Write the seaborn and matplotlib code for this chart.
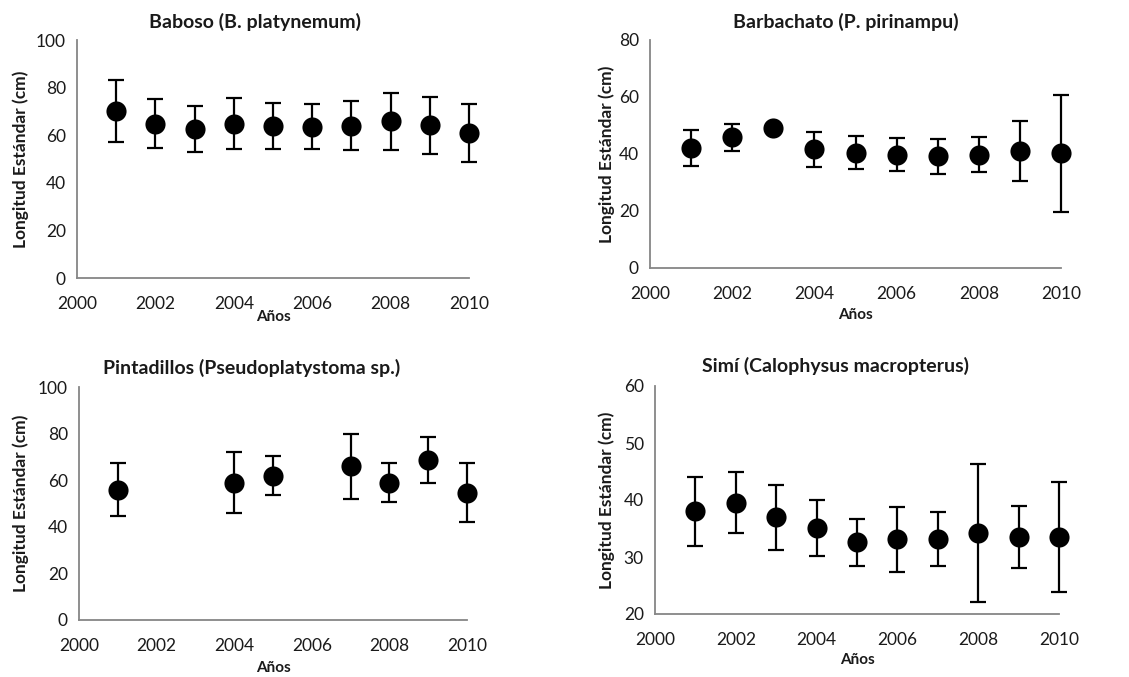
import matplotlib
matplotlib.use("Agg")
import matplotlib.pyplot as plt
import seaborn as sns
import pandas as pd
import numpy as np

# ---- data ----
titles = ["Baboso (B. platynemum)", "Barbachato (P. pirinampu)",
          "Pintadillos (Pseudoplatystoma sp.)", "Simí (Calophysus macropterus)"]

baboso_years = [2001, 2002, 2003, 2004, 2005, 2006, 2007, 2008, 2009, 2010]
baboso_mean = [70.2, 64.9, 62.6, 64.9, 63.8, 63.5, 64.0, 65.9, 64.2, 60.8]
baboso_err = [13.0, 10.4, 9.8, 10.8, 9.6, 9.4, 10.4, 12.0, 12.0, 12.1]

barba_years = [2001, 2002, 2003, 2004, 2005, 2006, 2007, 2008, 2009, 2010]
barba_mean = [42.2, 45.9, 49.1, 41.6, 40.5, 39.8, 39.2, 39.8, 41.2, 40.3]
barba_err = [6.3, 4.7, 0.0, 6.1, 5.8, 5.7, 6.1, 6.2, 10.5, 20.5]

pinta_years = [2001, 2004, 2005, 2007, 2008, 2009, 2010]
pinta_mean = [55.9, 59.0, 62.0, 65.9, 59.0, 68.6, 54.6]
pinta_err = [11.3, 13.1, 8.5, 14.0, 8.5, 10.0, 12.7]

simi_years = [2001, 2002, 2003, 2004, 2005, 2006, 2007, 2008, 2009, 2010]
simi_mean = [38.0, 39.5, 37.0, 35.1, 32.6, 33.1, 33.2, 34.2, 33.5, 33.5]
simi_err = [6.0, 5.35, 5.7, 4.95, 4.1, 5.65, 4.75, 12.1, 5.45, 9.7]

xticks = [2000, 2002, 2004, 2006, 2008, 2010]
ylims = [(0, 100), (0, 80), (0, 100), (20, 60)]
yticks = [[0, 20, 40, 60, 80, 100], [0, 20, 40, 60, 80],
          [0, 20, 40, 60, 80, 100], [20, 30, 40, 50, 60]]

series = [(baboso_years, baboso_mean, baboso_err),
          (barba_years, barba_mean, barba_err),
          (pinta_years, pinta_mean, pinta_err),
          (simi_years, simi_mean, simi_err)]

# ---- layout ----
sns.set_style("white")
plt.rcParams['font.family'] = ['Lato', 'DejaVu Sans']

fig = plt.figure(figsize=(11.29, 6.77), dpi=100)
W, H = 1129, 677
# (left px, right px, top px, bottom px)
boxes = [(77, 469, 40, 278), (650, 1061, 40, 268),
         (79, 467, 387, 620), (655, 1059, 386, 614)]
title_x = [0.454, 0.477, 0.446, 0.448]
title_y_px = [22, 22, 368, 366]
ylab_x = [-0.143, -0.105, -0.149, -0.119]
xlab_y_px = [317, 315, 668, 660]

gray = "#868686"
txt = "#1a1a1a"

for i, (yrs, mean, err) in enumerate(series):
    l, r, t, b = boxes[i]
    ax = fig.add_axes([l / W, 1 - b / H, (r - l) / W, (b - t) / H])
    df = pd.DataFrame({"Año": yrs, "Media": mean, "Err": err})
    ax.errorbar(df["Año"], df["Media"], yerr=df["Err"], fmt="none",
                ecolor="black", elinewidth=1.6, capsize=6, capthick=1.6, zorder=2)
    sns.scatterplot(data=df, x="Año", y="Media", ax=ax, s=210, color="black",
                    edgecolor="black", linewidth=0, zorder=3, legend=False)
    ax.set_xlim(2000, 2010)
    ax.set_ylim(*ylims[i])
    ax.set_xticks(xticks)
    ax.set_yticks(yticks[i])
    for s in ["top", "right"]:
        ax.spines[s].set_visible(False)
    for s in ["left", "bottom"]:
        ax.spines[s].set_color(gray)
        ax.spines[s].set_linewidth(1.3)
        ax.spines[s].set_zorder(1)
    ax.tick_params(axis="both", which="major", direction="out", length=5,
                   width=1.3, color=gray, labelsize=12.5, labelcolor=txt)
    ax.tick_params(axis="x", pad=8)
    ax.tick_params(axis="y", pad=3)
    for c in ax.collections:
        c.set_clip_on(False)
    for ln in ax.lines:
        ln.set_clip_on(False)

    ax.set_xlabel("Años", fontsize=11, fontweight="bold", color=txt)
    ax.xaxis.set_label_coords(0.5, -(xlab_y_px[i] - b) / (b - t))
    ax.xaxis.label.set_va("center")
    ax.set_ylabel("Longitud Estándar (cm)", fontsize=12.5, fontweight="bold", color=txt)
    ax.yaxis.set_label_coords(ylab_x[i], 0.5)
    ax.yaxis.label.set_va("center")

    ax.text(title_x[i], 1 + (t - title_y_px[i]) / (b - t), titles[i],
            transform=ax.transAxes, ha="center", va="center",
            fontsize=14, fontweight="bold", color=txt)

fig.savefig("out.png", dpi=100)
